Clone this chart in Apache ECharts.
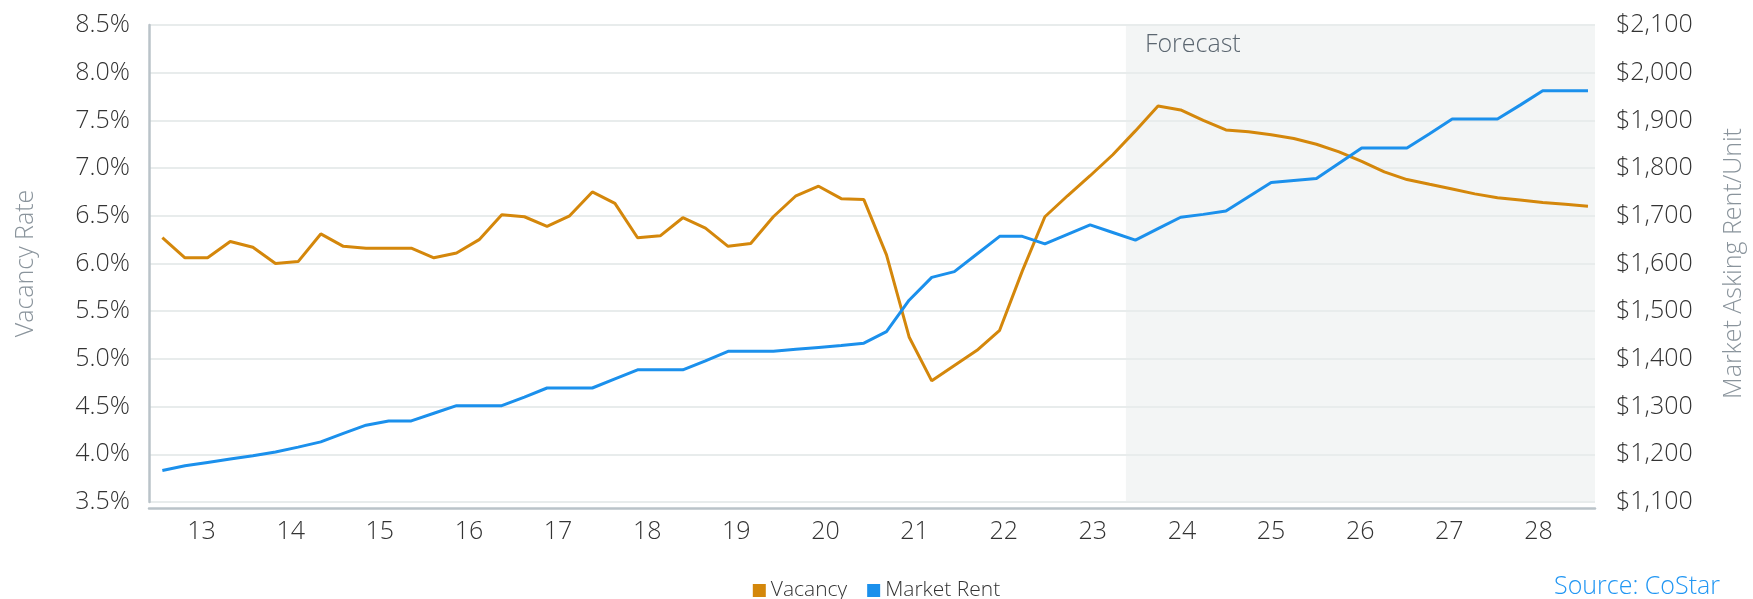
<!DOCTYPE html>
<html>
<head>
<meta charset="utf-8">
<script src="https://cdn.jsdelivr.net/npm/echarts@6/dist/echarts.min.js"></script>
<style>
html,body{margin:0;padding:0;background:#fff;}
#chart{width:1753px;height:599px;}
</style>
</head>
<body>
<div id="chart"></div>
<script>
// ---- data ----
const years = ['13','14','15','16','17','18','19','20','21','22','23','24','25','26','27','28'];
const quarterNames = ['Q1','Q2','Q3','Q4'];
const quarters = years.flatMap(y => quarterNames.map(q => '20' + y + ' ' + q));

const vacancy = [
  6.27, 6.06, 6.06, 6.23, 6.17, 6.00, 6.02, 6.31,
  6.18, 6.16, 6.16, 6.16, 6.06, 6.11, 6.25, 6.51,
  6.49, 6.39, 6.50, 6.75, 6.63, 6.27, 6.29, 6.48,
  6.37, 6.18, 6.21, 6.49, 6.71, 6.81, 6.68, 6.67,
  6.09, 5.23, 4.77, 4.93, 5.09, 5.30, 5.92, 6.49,
  6.71, 6.92, 7.14, 7.39, 7.65, 7.61, 7.50, 7.40,
  7.38, 7.35, 7.31, 7.25, 7.17, 7.07, 6.96, 6.88,
  6.83, 6.78, 6.73, 6.69, 6.665, 6.64, 6.62, 6.60
];

const marketRent = [
  1166, 1176, 1183, 1190, 1197, 1205, 1215, 1226,
  1244, 1261, 1270, 1270, 1286, 1302, 1302, 1302,
  1320, 1339, 1339, 1339, 1358, 1377, 1377, 1377,
  1396, 1416, 1416, 1416, 1420, 1424, 1428, 1433,
  1457, 1523, 1571, 1583, 1620, 1657, 1657, 1641,
  1661, 1681, 1665, 1649, 1673, 1697, 1703, 1710,
  1740, 1770, 1774, 1778, 1810, 1842, 1842, 1842,
  1872, 1903, 1903, 1903, 1932, 1962, 1962, 1962
];

const vacancyAxis = { min: 3.5, max: 8.5, interval: 0.5 };
const rentAxis = { min: 1100, max: 2100, interval: 100 };
const forecastStart = 42.58; // position in quarter index units
const seriesNames = ['Vacancy', 'Market Rent'];
const colors = ['#d4870b', '#1b90ec'];

// ---- chart ----
const FONT = '"Open Sans", "Noto Sans", sans-serif';
const xMin = -0.59, xMax = 63.31;

const chart = echarts.init(document.getElementById('chart'), null, { renderer: 'canvas' });

const option = {
  animation: false,
  textStyle: { fontFamily: FONT },
  grid: [
    { left: 149, right: 158, top: 25, bottom: 97, containLabel: false, outerBoundsMode: 'none' },
    { left: 157, right: 170, top: 25, bottom: 97, containLabel: false, outerBoundsMode: 'none' }
  ],
  legend: {
    data: seriesNames,
    left: 'center',
    top: 575,
    icon: 'rect',
    itemWidth: 13,
    itemHeight: 13,
    itemGap: 20,
    textStyle: { fontFamily: FONT, fontSize: 21, fontWeight: 300, color: '#333' }
  },
  graphic: [{
    type: 'text',
    right: 33,
    top: 574,
    style: { text: 'Source: CoStar', font: '300 25px ' + FONT, fill: '#2196f3' }
  }],
  xAxis: [
    {
      type: 'value', gridIndex: 0, min: xMin, max: xMax, offset: 6,
      axisLine: { show: true, onZero: false, lineStyle: { color: '#bac3c9', width: 2.5 } },
      axisTick: { show: false }, axisLabel: { show: false }, splitLine: { show: false }
    },
    {
      type: 'category', gridIndex: 1, data: years, boundaryGap: true,
      axisLine: { show: false, onZero: false }, axisTick: { show: false }, splitLine: { show: false },
      axisLabel: { fontFamily: FONT, fontSize: 25, fontWeight: 300, color: '#333', margin: 17 }
    }
  ],
  yAxis: [
    {
      type: 'value', gridIndex: 0, position: 'left',
      min: vacancyAxis.min, max: vacancyAxis.max, interval: vacancyAxis.interval,
      name: 'Vacancy Rate', nameLocation: 'middle', nameRotate: 90, nameGap: 111,
      nameTextStyle: { fontFamily: FONT, fontSize: 25, fontWeight: 300, color: '#8a949c' },
      axisLine: { show: true, onZero: false, lineStyle: { color: '#bac3c9', width: 2.5 } },
      axisTick: { show: false },
      axisLabel: {
        fontFamily: FONT, fontSize: 25, fontWeight: 300, color: '#333', margin: 19,
        padding: [5, 0, 0, 0],
        formatter: v => v.toFixed(1) + '%'
      },
      splitLine: { show: true, lineStyle: { color: '#e8ecec', width: 2 } }
    },
    {
      type: 'value', gridIndex: 0, position: 'right',
      min: rentAxis.min, max: rentAxis.max, interval: rentAxis.interval,
      name: 'Market Asking Rent/Unit', nameLocation: 'middle', nameRotate: 90, nameGap: 126,
      nameTextStyle: { fontFamily: FONT, fontSize: 25, fontWeight: 300, color: '#8a949c' },
      axisLine: { show: false, onZero: false }, axisTick: { show: false },
      axisLabel: {
        fontFamily: FONT, fontSize: 25, fontWeight: 300, color: '#333', margin: 21,
        padding: [5, 0, 0, 0],
        formatter: v => '$' + v.toLocaleString('en-US')
      },
      splitLine: { show: false }
    },
    { type: 'value', gridIndex: 1, show: false }
  ],
  series: [
    {
      name: 'forecast-band', type: 'line', xAxisIndex: 0, yAxisIndex: 0,
      data: [], z: -1, silent: true,
      markArea: {
        silent: true, z: -1,
        itemStyle: { color: '#f3f5f5' },
        label: {
          show: true, position: [19, 7], formatter: 'Forecast',
          fontFamily: FONT, fontSize: 25, fontWeight: 300, color: '#5b6670'
        },
        data: [[{ xAxis: forecastStart }, { xAxis: xMax }]]
      }
    },
    {
      name: seriesNames[0], type: 'line', xAxisIndex: 0, yAxisIndex: 0,
      data: vacancy.map((v, i) => [i, v]),
      symbol: 'none', color: colors[0],
      lineStyle: { width: 3, color: colors[0] }
    },
    {
      name: seriesNames[1], type: 'line', xAxisIndex: 0, yAxisIndex: 1,
      data: marketRent.map((v, i) => [i, v]),
      symbol: 'none', color: colors[1],
      lineStyle: { width: 3, color: colors[1] }
    }
  ]
};

chart.setOption(option);
</script>
</body>
</html>
